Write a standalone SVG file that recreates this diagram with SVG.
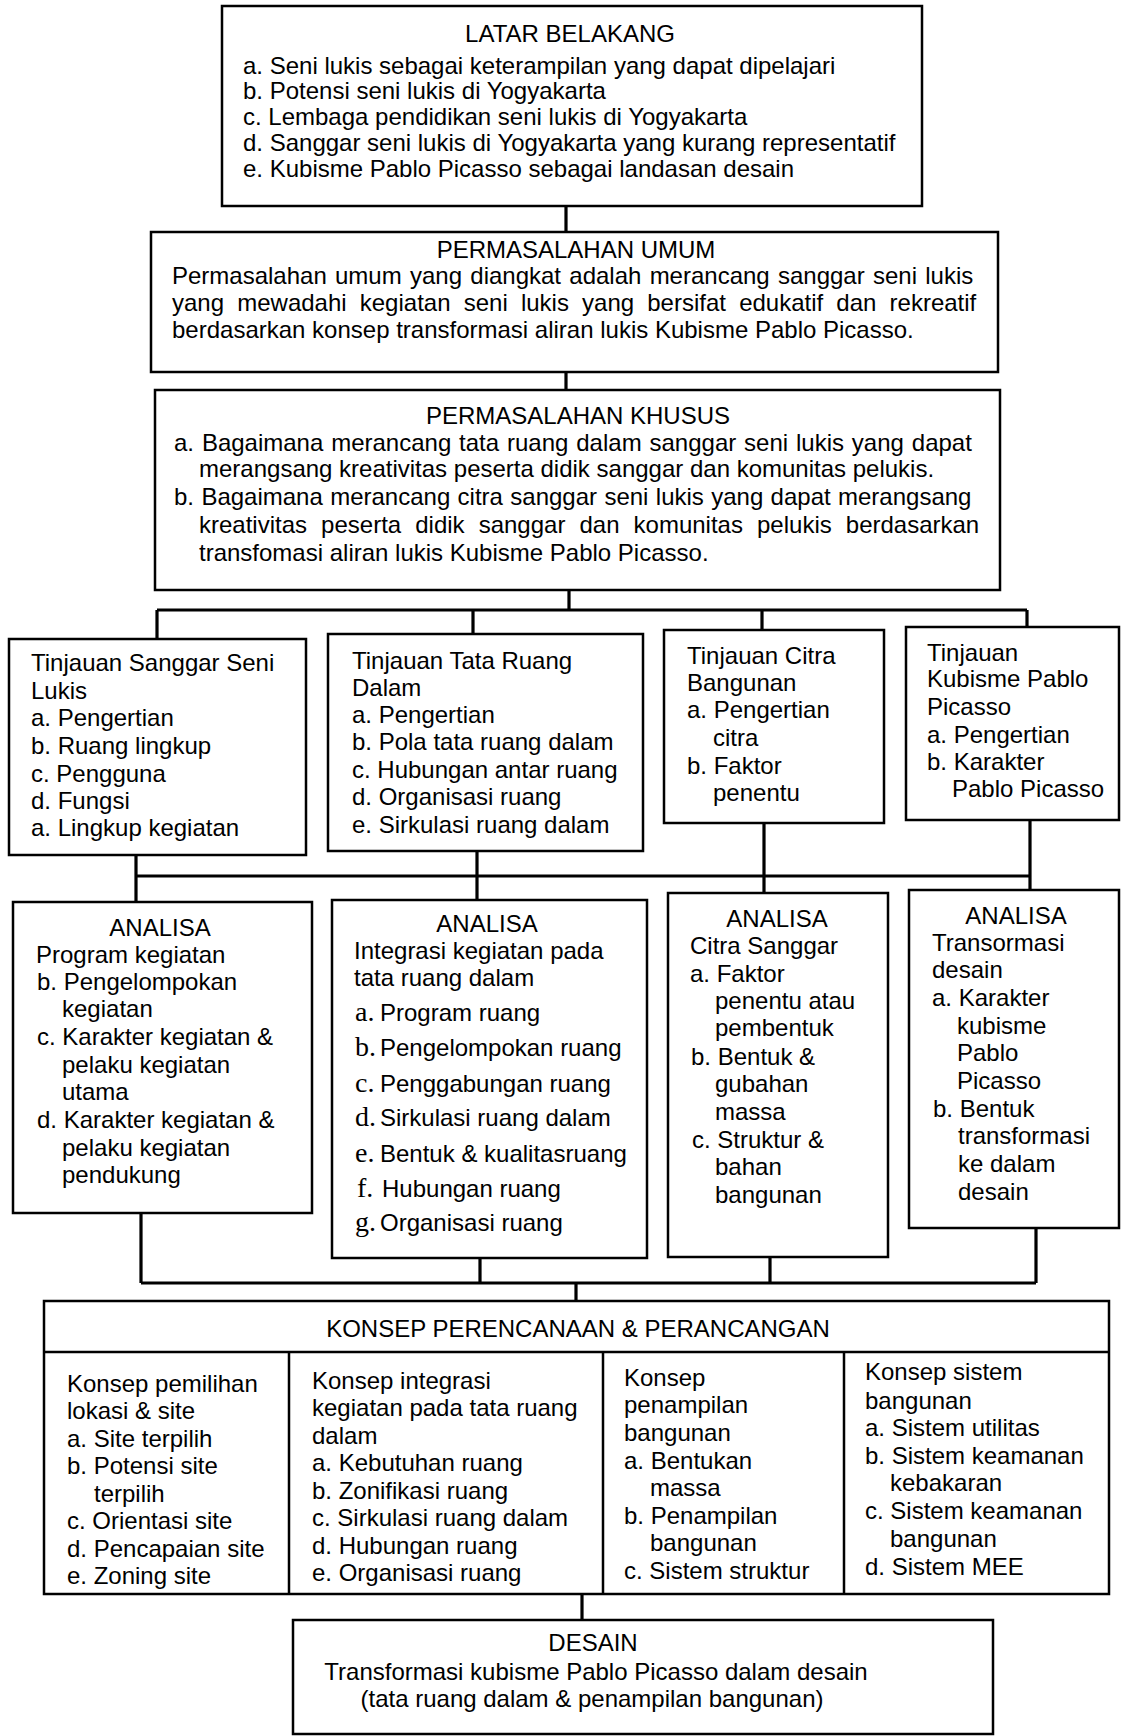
<svg xmlns="http://www.w3.org/2000/svg" width="1121" height="1736" viewBox="0 0 1121 1736">
<style>
.box{fill:#fff;stroke:#000;stroke-width:2.5}
.ln{stroke:#000;stroke-width:2.5;fill:none}
.conn{stroke:#000;stroke-width:3.2;fill:none}
text{font-family:"Liberation Sans",Arial,sans-serif;font-size:24px;fill:#000}
.c{text-anchor:middle}
.s{font-family:"Liberation Serif","Times New Roman",serif;font-size:28px}
</style>
<rect x="0" y="0" width="1121" height="1736" fill="#fff"/>
<g id="connectors">
<path class="conn" d="M566 206V232M566 372V390"/>
<path class="conn" d="M569 590V610M157 610H1027M157 610V639M473 610V634M762 610V630M1027 610V627"/>
<path class="conn" d="M136 876H1031M136 855V902M477 851V900M764 823V893M1030 820V890"/>
<path class="conn" d="M141 1283H1036M141 1213V1283M480 1258V1283M770 1257V1283M1036 1228V1283M576 1283V1301"/>
<path class="conn" d="M582 1594V1620"/>
</g>
<g id="latar">
<rect class="box" x="222" y="6" width="700" height="200"/>
<text class="c" x="570" y="42">LATAR BELAKANG</text>
<text x="243" y="74">a. Seni lukis sebagai keterampilan yang dapat dipelajari</text>
<text x="243" y="99">b. Potensi seni lukis di Yogyakarta</text>
<text x="243" y="125">c. Lembaga pendidikan seni lukis di Yogyakarta</text>
<text x="243" y="151">d. Sanggar seni lukis di Yogyakarta yang kurang representatif</text>
<text x="243" y="177">e. Kubisme Pablo Picasso sebagai landasan desain</text>
</g>
<g id="umum">
<rect class="box" x="151" y="232" width="847" height="140"/>
<text class="c" x="576" y="258">PERMASALAHAN UMUM</text>
<text x="172" y="284" word-spacing="1.6">Permasalahan umum yang diangkat adalah merancang sanggar seni lukis</text>
<text x="172" y="311" word-spacing="6.5">yang mewadahi kegiatan seni lukis yang bersifat edukatif dan rekreatif</text>
<text x="172" y="338">berdasarkan konsep transformasi aliran lukis Kubisme Pablo Picasso.</text>
</g>
<g id="khusus">
<rect class="box" x="155" y="390" width="845" height="200"/>
<text class="c" x="578" y="424">PERMASALAHAN KHUSUS</text>
<text x="174" y="451" word-spacing="1.2">a. Bagaimana merancang tata ruang dalam sanggar seni lukis yang dapat</text>
<text x="199" y="477">merangsang kreativitas peserta didik sanggar dan komunitas pelukis.</text>
<text x="174" y="505" word-spacing="0.7">b. Bagaimana merancang citra sanggar seni lukis yang dapat merangsang</text>
<text x="199" y="533" word-spacing="7.4">kreativitas peserta didik sanggar dan komunitas pelukis berdasarkan</text>
<text x="199" y="561">transfomasi aliran lukis Kubisme Pablo Picasso.</text>
</g>
<g id="tinjauan-sanggar">
<rect class="box" x="9" y="639" width="297" height="216"/>
<text x="31" y="671">Tinjauan Sanggar Seni</text>
<text x="31" y="699">Lukis</text>
<text x="31" y="726">a. Pengertian</text>
<text x="31" y="754">b. Ruang lingkup</text>
<text x="31" y="782">c. Pengguna</text>
<text x="31" y="809">d. Fungsi</text>
<text x="31" y="836">a. Lingkup kegiatan</text>
</g>
<g id="tinjauan-tata-ruang">
<rect class="box" x="328" y="634" width="315" height="217"/>
<text x="352" y="669">Tinjauan Tata Ruang</text>
<text x="352" y="696">Dalam</text>
<text x="352" y="723">a. Pengertian</text>
<text x="352" y="750">b. Pola tata ruang dalam</text>
<text x="352" y="778">c. Hubungan antar ruang</text>
<text x="352" y="805">d. Organisasi ruang</text>
<text x="352" y="833">e. Sirkulasi ruang dalam</text>
</g>
<g id="tinjauan-citra">
<rect class="box" x="664" y="630" width="220" height="193"/>
<text x="687" y="664">Tinjauan Citra</text>
<text x="687" y="691">Bangunan</text>
<text x="687" y="718">a. Pengertian</text>
<text x="713" y="746">citra</text>
<text x="687" y="774">b. Faktor</text>
<text x="713" y="801">penentu</text>
</g>
<g id="tinjauan-kubisme">
<rect class="box" x="906" y="627" width="213" height="193"/>
<text x="927" y="661">Tinjauan</text>
<text x="927" y="687">Kubisme Pablo</text>
<text x="927" y="715">Picasso</text>
<text x="927" y="743">a. Pengertian</text>
<text x="927" y="770">b. Karakter</text>
<text x="952" y="797">Pablo Picasso</text>
</g>
<g id="analisa-program">
<rect class="box" x="13" y="902" width="299" height="311"/>
<text class="c" x="160" y="936">ANALISA</text>
<text x="36" y="963">Program kegiatan</text>
<text x="37" y="990">b. Pengelompokan</text>
<text x="62" y="1017">kegiatan</text>
<text x="37" y="1045">c. Karakter kegiatan &amp;</text>
<text x="62" y="1073">pelaku kegiatan</text>
<text x="62" y="1100">utama</text>
<text x="37" y="1128">d. Karakter kegiatan &amp;</text>
<text x="62" y="1156">pelaku kegiatan</text>
<text x="62" y="1183">pendukung</text>
</g>
<g id="analisa-integrasi">
<rect class="box" x="332" y="900" width="315" height="358"/>
<text class="c" x="487" y="932">ANALISA</text>
<text x="354" y="959">Integrasi kegiatan pada</text>
<text x="354" y="986">tata ruang dalam</text>
<text y="1021"><tspan class="s" x="355">a.</tspan><tspan x="380">Program ruang</tspan></text>
<text y="1056"><tspan class="s" x="355">b.</tspan><tspan x="380">Pengelompokan ruang</tspan></text>
<text y="1092"><tspan class="s" x="355">c.</tspan><tspan x="380">Penggabungan ruang</tspan></text>
<text y="1126"><tspan class="s" x="355">d.</tspan><tspan x="380">Sirkulasi ruang dalam</tspan></text>
<text y="1162"><tspan class="s" x="355">e.</tspan><tspan x="380">Bentuk &amp; kualitasruang</tspan></text>
<text y="1197"><tspan class="s" x="357">f.</tspan><tspan x="382">Hubungan ruang</tspan></text>
<text y="1231"><tspan class="s" x="355">g.</tspan><tspan x="380">Organisasi ruang</tspan></text>
</g>
<g id="analisa-citra">
<rect class="box" x="668" y="893" width="220" height="364"/>
<text class="c" x="777" y="927">ANALISA</text>
<text x="690" y="954">Citra Sanggar</text>
<text x="690" y="982">a. Faktor</text>
<text x="715" y="1009">penentu atau</text>
<text x="715" y="1036">pembentuk</text>
<text x="691" y="1065">b. Bentuk &amp;</text>
<text x="715" y="1092">gubahan</text>
<text x="715" y="1120">massa</text>
<text x="692" y="1148">c. Struktur &amp;</text>
<text x="715" y="1175">bahan</text>
<text x="715" y="1203">bangunan</text>
</g>
<g id="analisa-transformasi">
<rect class="box" x="909" y="890" width="210" height="338"/>
<text class="c" x="1016" y="924">ANALISA</text>
<text x="932" y="951">Transormasi</text>
<text x="932" y="978">desain</text>
<text x="932" y="1006">a. Karakter</text>
<text x="957" y="1034">kubisme</text>
<text x="957" y="1061">Pablo</text>
<text x="957" y="1089">Picasso</text>
<text x="933" y="1117">b. Bentuk</text>
<text x="958" y="1144">transformasi</text>
<text x="958" y="1172">ke dalam</text>
<text x="958" y="1200">desain</text>
</g>
<g id="konsep">
<rect class="box" x="44" y="1301" width="1065" height="293"/>
<path class="ln" d="M44 1352H1109M289 1352V1594M603 1352V1594M844 1352V1594"/>
<text class="c" x="578" y="1337">KONSEP PERENCANAAN &amp; PERANCANGAN</text>
<g id="konsep-lokasi">
<text x="67" y="1392">Konsep pemilihan</text>
<text x="67" y="1419">lokasi &amp; site</text>
<text x="67" y="1447">a. Site terpilih</text>
<text x="67" y="1474">b. Potensi site</text>
<text x="94" y="1502">terpilih</text>
<text x="67" y="1529">c. Orientasi site</text>
<text x="67" y="1557">d. Pencapaian site</text>
<text x="67" y="1584">e. Zoning site</text>
</g>
<g id="konsep-integrasi">
<text x="312" y="1389">Konsep integrasi</text>
<text x="312" y="1416">kegiatan pada tata ruang</text>
<text x="312" y="1444">dalam</text>
<text x="312" y="1471">a. Kebutuhan ruang</text>
<text x="312" y="1499">b. Zonifikasi ruang</text>
<text x="312" y="1526">c. Sirkulasi ruang dalam</text>
<text x="312" y="1554">d. Hubungan ruang</text>
<text x="312" y="1581">e. Organisasi ruang</text>
</g>
<g id="konsep-penampilan">
<text x="624" y="1386">Konsep</text>
<text x="624" y="1413">penampilan</text>
<text x="624" y="1441">bangunan</text>
<text x="624" y="1469">a. Bentukan</text>
<text x="650" y="1496">massa</text>
<text x="624" y="1524">b. Penampilan</text>
<text x="650" y="1551">bangunan</text>
<text x="624" y="1579">c. Sistem struktur</text>
</g>
<g id="konsep-sistem">
<text x="865" y="1380">Konsep sistem</text>
<text x="865" y="1409">bangunan</text>
<text x="865" y="1436">a. Sistem utilitas</text>
<text x="865" y="1464">b. Sistem keamanan</text>
<text x="890" y="1491">kebakaran</text>
<text x="865" y="1519">c. Sistem keamanan</text>
<text x="890" y="1547">bangunan</text>
<text x="865" y="1575">d. Sistem MEE</text>
</g>
</g>
<g id="desain">
<rect class="box" x="293" y="1620" width="700" height="114"/>
<text class="c" x="593" y="1651">DESAIN</text>
<text class="c" x="596" y="1680">Transformasi kubisme Pablo Picasso dalam desain</text>
<text class="c" x="592" y="1707">(tata ruang dalam &amp; penampilan bangunan)</text>
</g>
</svg>
